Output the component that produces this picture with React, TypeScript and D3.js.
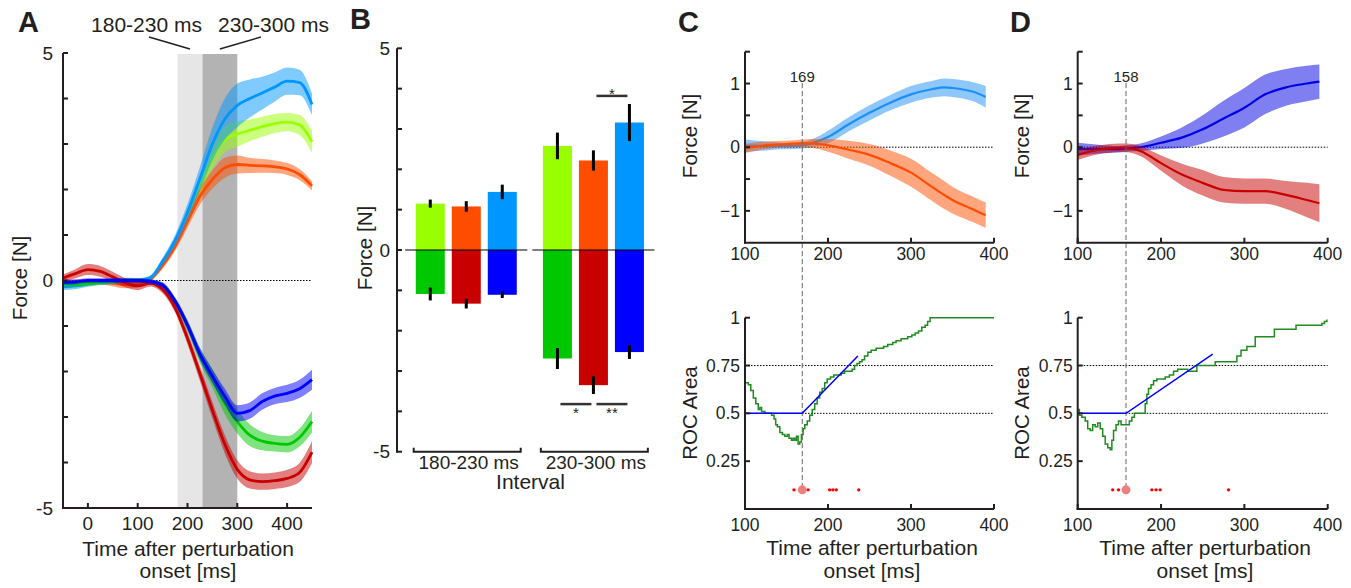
import React from 'react';
import * as d3 from 'd3';

const FONT = '"Liberation Sans", Arial, Helvetica, sans-serif';
const INK = '#231f20';

// ---------------- Panel A data ----------------
const timeA = [-50, -25, 0, 25, 50, 75, 100, 125, 150, 175, 200, 225, 250, 275, 300, 325, 350, 375, 400, 425, 450];
const limeUp = [-0.1, -0.08, -0.05, -0.04, -0.03, -0.01, 0, 0.05, 0.38, 0.8, 1.4, 2.05, 2.7, 3.1, 3.22, 3.3, 3.38, 3.45, 3.48, 3.42, 3.05];
const limeUpSe = [0.06, 0.06, 0.06, 0.06, 0.06, 0.06, 0.05, 0.05, 0.07, 0.1, 0.15, 0.2, 0.25, 0.28, 0.28, 0.24, 0.22, 0.21, 0.2, 0.22, 0.25];
const orangeUp = [-0.03, -0.04, -0.03, -0.03, -0.06, -0.09, -0.08, 0.02, 0.33, 0.75, 1.3, 1.85, 2.22, 2.48, 2.55, 2.53, 2.52, 2.5, 2.45, 2.33, 2.08];
const orangeUpSe = [0.06, 0.06, 0.06, 0.06, 0.07, 0.08, 0.07, 0.05, 0.07, 0.1, 0.14, 0.18, 0.2, 0.22, 0.2, 0.17, 0.15, 0.14, 0.13, 0.12, 0.1];
const blueUp = [-0.14, -0.12, -0.07, -0.04, -0.02, 0, 0, 0.06, 0.42, 0.88, 1.5, 2.24, 3.0, 3.55, 3.85, 4.0, 4.12, 4.25, 4.38, 4.35, 3.87];
const blueUpSe = [0.07, 0.07, 0.07, 0.06, 0.06, 0.05, 0.05, 0.05, 0.08, 0.12, 0.18, 0.26, 0.36, 0.45, 0.48, 0.42, 0.36, 0.32, 0.3, 0.28, 0.24];
const greenDown = [-0.06, -0.08, -0.06, -0.03, -0.01, 0, 0, -0.03, -0.12, -0.48, -1.0, -1.65, -2.15, -2.7, -3.1, -3.4, -3.53, -3.58, -3.6, -3.45, -3.1];
const greenDownSe = [0.06, 0.06, 0.06, 0.06, 0.06, 0.06, 0.05, 0.05, 0.07, 0.1, 0.13, 0.17, 0.2, 0.24, 0.26, 0.24, 0.2, 0.18, 0.18, 0.2, 0.24];
const redDown = [0.05, 0.15, 0.24, 0.2, 0.08, -0.05, -0.12, -0.06, -0.2, -0.6, -1.27, -2.05, -2.85, -3.6, -4.15, -4.38, -4.42, -4.4, -4.35, -4.22, -3.77];
const redDownSe = [0.08, 0.1, 0.12, 0.12, 0.11, 0.1, 0.09, 0.07, 0.08, 0.1, 0.13, 0.16, 0.18, 0.2, 0.2, 0.19, 0.18, 0.18, 0.19, 0.21, 0.24];
const blueDown = [-0.04, -0.03, 0, 0, 0, 0, 0, -0.02, -0.1, -0.45, -0.98, -1.62, -2.1, -2.55, -2.92, -2.86, -2.66, -2.54, -2.48, -2.38, -2.18];
const blueDownSe = [0.05, 0.05, 0.05, 0.05, 0.05, 0.05, 0.05, 0.05, 0.06, 0.08, 0.1, 0.13, 0.15, 0.17, 0.18, 0.18, 0.18, 0.18, 0.19, 0.2, 0.22];
const intervals: [number, number][] = [[180, 230], [230, 300]];
const intervalLabels = ['180-230 ms', '230-300 ms'];

// ---------------- Panel B data ----------------
const groups = ['180-230 ms', '230-300 ms'];
const barSlots = ['1', '2', '3'];
const upMeans = [[1.15, 1.08, 1.44], [2.58, 2.22, 3.16]];
const upErrs = [[0.1, 0.13, 0.18], [0.33, 0.25, 0.46]];
const downMeans = [[-1.09, -1.33, -1.11], [-2.69, -3.35, -2.53]];
const downErrs = [[0.16, 0.12, 0.08], [0.26, 0.22, 0.17]];
const sigGroup = [1, 1, 1];
const sigFrom = [1, 0, 1];
const sigTo = [2, 1, 2];
const sigLevel = [3.82, -3.82, -3.82];
const sigLabel = ['*', '*', '**'];

// ---------------- Panel C data ----------------
const timeC = [100, 125, 150, 169, 180, 200, 225, 250, 275, 300, 325, 340, 350, 375, 390];
const blueC = [0.02, 0.02, 0.02, 0.03, 0.06, 0.16, 0.36, 0.54, 0.7, 0.83, 0.91, 0.94, 0.93, 0.87, 0.79];
const blueCSe = [0.1, 0.07, 0.05, 0.05, 0.06, 0.1, 0.11, 0.12, 0.12, 0.13, 0.13, 0.14, 0.14, 0.15, 0.17];
const orangeC = [-0.02, 0.03, 0.05, 0.06, 0.06, 0.03, -0.04, -0.12, -0.25, -0.4, -0.62, -0.75, -0.83, -0.98, -1.07];
const orangeCSe = [0.07, 0.06, 0.05, 0.06, 0.07, 0.1, 0.14, 0.17, 0.2, 0.22, 0.22, 0.22, 0.21, 0.2, 0.2];
const rocCTime = [100, 104, 107, 110, 113, 116, 118, 120, 124, 128, 132, 135, 137, 139, 142, 145, 148, 151, 153, 156, 158, 160, 162, 164, 166, 168, 170, 172, 175, 178, 181, 184, 187, 190, 193, 196, 199, 203, 207, 212, 216, 220, 226, 229, 232, 235, 238, 241, 244, 248, 252, 258, 264, 267, 272, 278, 282, 288, 296, 301, 305, 309, 313, 317, 320, 323, 400];
const rocCVal = [0.66, 0.65, 0.62, 0.58, 0.55, 0.52, 0.53, 0.51, 0.5, 0.5, 0.49, 0.47, 0.44, 0.43, 0.4, 0.39, 0.38, 0.39, 0.37, 0.36, 0.37, 0.36, 0.38, 0.34, 0.35, 0.39, 0.42, 0.44, 0.46, 0.49, 0.52, 0.55, 0.58, 0.61, 0.63, 0.66, 0.68, 0.69, 0.7, 0.7, 0.71, 0.72, 0.72, 0.73, 0.75, 0.76, 0.77, 0.78, 0.8, 0.82, 0.83, 0.84, 0.84, 0.85, 0.86, 0.87, 0.88, 0.89, 0.9, 0.91, 0.92, 0.93, 0.95, 0.96, 0.98, 1.0, 1.0];
const fitCTime = [100, 169, 236];
const fitCVal = [0.5, 0.5, 0.8];
const dotsCTime = [159, 167, 176, 202, 206, 210, 237];
const onsetC = 169;

// ---------------- Panel D data ----------------
const timeD = [100, 125, 150, 158, 175, 200, 225, 250, 275, 300, 325, 350, 375, 390];
const blueD = [-0.03, -0.03, -0.03, -0.02, 0.0, 0.07, 0.15, 0.28, 0.45, 0.62, 0.83, 0.94, 1.0, 1.03];
const blueDSe = [0.1, 0.07, 0.05, 0.05, 0.06, 0.1, 0.16, 0.22, 0.28, 0.31, 0.31, 0.29, 0.28, 0.27];
const redD = [-0.12, -0.04, -0.01, -0.01, -0.06, -0.25, -0.43, -0.56, -0.67, -0.69, -0.69, -0.75, -0.83, -0.88];
const redDSe = [0.08, 0.07, 0.07, 0.07, 0.08, 0.12, 0.17, 0.2, 0.2, 0.2, 0.2, 0.22, 0.27, 0.3];
const rocDTime = [100, 102, 105, 109, 112, 115, 118, 121, 124, 127, 130, 133, 136, 139, 141, 143, 146, 149, 152, 156, 159, 162, 165, 168, 180, 181, 183, 185, 188, 191, 195, 200, 205, 210, 215, 220, 228, 232, 240, 243, 262, 265, 288, 291, 296, 303, 307, 313, 332, 336, 360, 362, 390, 393, 396, 399];
const rocDVal = [0.52, 0.49, 0.48, 0.46, 0.42, 0.41, 0.44, 0.43, 0.45, 0.42, 0.38, 0.34, 0.32, 0.31, 0.36, 0.41, 0.44, 0.46, 0.44, 0.44, 0.44, 0.46, 0.48, 0.5, 0.5, 0.55, 0.6, 0.63, 0.65, 0.67, 0.68, 0.68, 0.69, 0.7, 0.72, 0.73, 0.73, 0.72, 0.72, 0.75, 0.75, 0.77, 0.77, 0.8, 0.83, 0.85, 0.85, 0.9, 0.9, 0.94, 0.94, 0.96, 0.96, 0.97, 0.98, 0.99];
const fitDTime = [100, 158, 262];
const fitDVal = [0.5, 0.5, 0.81];
const dotsDTime = [142, 149, 189, 194, 199, 281];
const onsetD = 158;

type Scale = d3.ScaleLinear<number, number>;

function Band({ x, y, t, m, s, color, width = 2.5 }: { x: Scale; y: Scale; t: number[]; m: number[]; s: number[]; color: string; width?: number }) {
  const area = d3.area<number>()
    .x((_, i) => x(t[i]))
    .y0((d, i) => y(d - s[i]))
    .y1((d, i) => y(d + s[i]))
    .curve(d3.curveMonotoneX);
  const line = d3.line<number>()
    .x((_, i) => x(t[i]))
    .y((d) => y(d))
    .curve(d3.curveMonotoneX);
  return (
    <g>
      <path d={area(m) || ''} fill={color} fillOpacity={0.5} stroke="none" />
      <path d={line(m) || ''} fill="none" stroke={color} strokeWidth={width} />
    </g>
  );
}

const textStyle = { fontFamily: FONT, fill: INK } as const;

function PanelA() {
  const x = d3.scaleLinear().domain([-50, 450]).range([63, 312]);
  const y = d3.scaleLinear().domain([-5, 5]).range([508, 53]);
  const ser = [
    { m: limeUp, s: limeUpSe, c: '#99ff00' },
    { m: orangeUp, s: orangeUpSe, c: '#ff4d00' },
    { m: blueUp, s: blueUpSe, c: '#0096ff' },
    { m: greenDown, s: greenDownSe, c: '#00c800' },
    { m: redDown, s: redDownSe, c: '#c80000' },
    { m: blueDown, s: blueDownSe, c: '#0000ff' },
  ];
  const yTicks = d3.range(-5, 6, 1);
  const xTicks = [0, 100, 200, 300, 400];
  const fills = ['#e6e6e6', '#b3b3b3'];
  return (
    <g>
      {intervals.map(([a, b], i) => (
        <rect key={i} x={x(a)} y={y(5) + 1} width={x(b) - x(a)} height={y(-5) - y(5) - 1} fill={fills[i]} />
      ))}
      <line x1={x(-50)} x2={x(450)} y1={y(0)} y2={y(0)} stroke="#000" strokeWidth={1} strokeDasharray="1.5,1.5" />
      {ser.map((d, i) => (
        <Band key={i} x={x} y={y} t={timeA} m={d.m} s={d.s} color={d.c} width={2.8} />
      ))}
      {intervals.map(([a, b], i) => {
        const mid = x((a + b) / 2);
        const sx = i === 0 ? mid - 41 : mid + 41;
        const tx = i === 0 ? 146.5 : 273.5;
        return (
          <g key={i}>
            <line x1={sx} y1={37} x2={mid} y2={49} stroke={INK} strokeWidth={1.5} />
            <text x={tx} y={32} textAnchor="middle" fontSize={21} style={textStyle}>{intervalLabels[i]}</text>
          </g>
        );
      })}
      <line x1={x(-50)} x2={x(-50)} y1={y(5)} y2={y(-5) + 1} stroke={INK} strokeWidth={2} />
      <line x1={x(-50) - 1} x2={x(450)} y1={y(-5)} y2={y(-5)} stroke={INK} strokeWidth={2} />
      {yTicks.map((v) => (
        <line key={v} x1={x(-50)} x2={x(-50) + 5} y1={y(v)} y2={y(v)} stroke={INK} strokeWidth={2} />
      ))}
      {[5, 0, -5].map((v) => (
        <text key={v} x={53} y={y(v)} dy="0.35em" textAnchor="end" fontSize={19} style={textStyle}>{v}</text>
      ))}
      {xTicks.map((v) => (
        <g key={v}>
          <line x1={x(v)} x2={x(v)} y1={y(-5)} y2={y(-5) - 5} stroke={INK} strokeWidth={2} />
          <text x={x(v)} y={530} textAnchor="middle" fontSize={19} style={textStyle}>{v}</text>
        </g>
      ))}
      <text x={188} y={556} textAnchor="middle" fontSize={21} style={textStyle}>Time after perturbation</text>
      <text x={188} y={578} textAnchor="middle" fontSize={21} style={textStyle}>onset [ms]</text>
      <text transform={`translate(27,278) rotate(-90)`} textAnchor="middle" fontSize={20.5} style={textStyle}>Force [N]</text>
      <text x={18} y={32} fontSize={29} fontWeight="bold" style={textStyle}>A</text>
    </g>
  );
}

function PanelB() {
  const y = d3.scaleLinear().domain([-5, 5]).range([451.7, 48.3]);
  const xg = d3.scaleBand<string>().domain(groups).range([402.7, 657]);
  const xs = d3.scaleBand<string>().domain(barSlots).range([0, xg.bandwidth()]).paddingInner(0.194).paddingOuter(0.363);
  const upC = ['#99ff00', '#ff4d00', '#0096ff'];
  const downC = ['#00c800', '#c80000', '#0000ff'];
  const bw = xs.bandwidth();
  const cx = (g: number, k: number) => (xg(groups[g]) as number) + (xs(barSlots[k]) as number) + bw / 2;
  return (
    <g>
      {groups.map((g, gi) => (
        <g key={g}>
          {barSlots.map((s, k) => {
            const x0 = (xg(g) as number) + (xs(s) as number);
            const um = upMeans[gi][k];
            const dm = downMeans[gi][k];
            return (
              <g key={s}>
                <rect x={x0} y={y(um)} width={bw} height={y(0) - y(um)} fill={upC[k]} />
                <rect x={x0} y={y(0)} width={bw} height={y(dm) - y(0)} fill={downC[k]} />
                <line x1={x0 + bw / 2} x2={x0 + bw / 2} y1={y(um - upErrs[gi][k])} y2={y(um + upErrs[gi][k])} stroke="#000" strokeWidth={3} />
                <line x1={x0 + bw / 2} x2={x0 + bw / 2} y1={y(dm - downErrs[gi][k])} y2={y(dm + downErrs[gi][k])} stroke="#000" strokeWidth={3} />
              </g>
            );
          })}
          <line x1={(xg(g) as number) + 2.5} x2={(xg(g) as number) + xg.bandwidth() - 2.5} y1={y(0)} y2={y(0)} stroke="#000" strokeWidth={1} />
          <path
            d={`M${(xg(g) as number) + 11},${y(-5) - 4}V${y(-5)}H${(xg(g) as number) + 118}V${y(-5) - 4}`}
            fill="none" stroke={INK} strokeWidth={2}
          />
          <text x={(xg(g) as number) + 66} y={468.5} textAnchor="middle" fontSize={19} style={textStyle}>{g}</text>
        </g>
      ))}
      {sigLevel.map((lv, i) => {
        const x1 = cx(sigGroup[i], sigFrom[i]) + 3;
        const x2 = cx(sigGroup[i], sigTo[i]) - 2;
        const ty = lv > 0 ? y(lv) + 3 : y(lv) + 14;
        return (
          <g key={i}>
            <line x1={x1} x2={x2} y1={y(lv)} y2={y(lv)} stroke="#333" strokeWidth={2.5} />
            <text x={(x1 + x2) / 2} y={ty} textAnchor="middle" fontSize={15} style={textStyle}>{sigLabel[i]}</text>
          </g>
        );
      })}
      <line x1={397} x2={397} y1={y(5)} y2={y(-5) + 1} stroke={INK} strokeWidth={2} />
      {d3.range(-5, 6, 1).map((v) => (
        <line key={v} x1={397} x2={402} y1={y(v)} y2={y(v)} stroke={INK} strokeWidth={2} />
      ))}
      {[5, 0, -5].map((v) => (
        <text key={v} x={390} y={y(v)} dy="0.35em" textAnchor="end" fontSize={19} style={textStyle}>{v}</text>
      ))}
      <text x={530.5} y={488.5} textAnchor="middle" fontSize={21} style={textStyle}>Interval</text>
      <text transform={`translate(372,248) rotate(-90)`} textAnchor="middle" fontSize={20.5} style={textStyle}>Force [N]</text>
      <text x={350} y={29} fontSize={29} fontWeight="bold" style={textStyle}>B</text>
    </g>
  );
}

function PanelCD(props: {
  x0: number; x1: number; letter: string; letterX: number; titleX: number;
  t: number[]; m1: number[]; s1: number[]; c1: string; m2: number[]; s2: number[]; c2: string;
  rocT: number[]; rocV: number[]; fitT: number[]; fitV: number[]; dots: number[]; onset: number;
}) {
  const x = d3.scaleLinear().domain([100, 400]).range([props.x0, props.x1]);
  const yt = d3.scaleLinear().domain([-1.5, 1.5]).range([242.7, 51.7]);
  const yr = d3.scaleLinear().domain([0, 1]).range([509, 317.7]);
  const fmt = d3.format('');
  const xTicks = [100, 200, 300, 400];
  const ax = props.x0;
  const rocLine = d3.line<number>().x((_, i) => x(props.rocT[i])).y((d) => yr(d)).curve(d3.curveStepAfter);
  const fitLine = d3.line<number>().x((_, i) => x(props.fitT[i])).y((d) => yr(d));
  return (
    <g>
      <line x1={ax} x2={x(400)} y1={yt(0)} y2={yt(0)} stroke="#000" strokeWidth={1} strokeDasharray="1.5,1.5" />
      {[0.5, 0.75].map((v) => (
        <line key={v} x1={ax} x2={x(400)} y1={yr(v)} y2={yr(v)} stroke="#000" strokeWidth={1} strokeDasharray="1.5,1.5" />
      ))}
      <Band x={x} y={yt} t={props.t} m={props.m1} s={props.s1} color={props.c1} width={2.2} />
      <Band x={x} y={yt} t={props.t} m={props.m2} s={props.s2} color={props.c2} width={2.2} />
      <line x1={x(props.onset)} x2={x(props.onset)} y1={83} y2={yr(0.1)} stroke="#666" strokeWidth={1} strokeDasharray="5,3" />
      <text x={x(props.onset)} y={82} textAnchor="middle" fontSize={15} style={textStyle}>{props.onset}</text>
      <path d={rocLine(props.rocV) || ''} fill="none" stroke="#1f8a1f" strokeWidth={1.5} />
      <path d={fitLine(props.fitV) || ''} fill="none" stroke="#0000ff" strokeWidth={1.5} />
      {props.dots.map((d, i) => (
        <circle key={i} cx={x(d)} cy={yr(0.1)} r={1.7} fill="#ff0000" />
      ))}
      <circle cx={x(props.onset)} cy={yr(0.1)} r={4.5} fill="#f08080" />
      <line x1={ax} x2={ax} y1={yt(1.5)} y2={yt(-1.5) + 1} stroke={INK} strokeWidth={2} />
      <line x1={ax - 1} x2={x(400)} y1={yt(-1.5)} y2={yt(-1.5)} stroke={INK} strokeWidth={2} />
      {[-1, -0.5, 0, 0.5, 1, 1.5].map((v) => (
        <line key={v} x1={ax} x2={ax + 5} y1={yt(v)} y2={yt(v)} stroke={INK} strokeWidth={2} />
      ))}
      {[1, 0, -1].map((v) => (
        <text key={v} x={ax - 5} y={yt(v)} dy="0.35em" textAnchor="end" fontSize={17.5} style={textStyle}>{fmt(v)}</text>
      ))}
      {xTicks.map((v) => (
        <g key={v}>
          <line x1={x(v)} x2={x(v)} y1={yt(-1.5)} y2={yt(-1.5) - 5} stroke={INK} strokeWidth={2} />
          <text x={x(v)} y={259.5} textAnchor="middle" fontSize={17.5} style={textStyle}>{v}</text>
        </g>
      ))}
      <line x1={ax} x2={ax} y1={yr(1)} y2={yr(0) + 1} stroke={INK} strokeWidth={2} />
      <line x1={ax - 1} x2={x(400)} y1={yr(0)} y2={yr(0)} stroke={INK} strokeWidth={2} />
      {[0.25, 0.5, 0.75, 1].map((v) => (
        <g key={v}>
          <line x1={ax} x2={ax + 5} y1={yr(v)} y2={yr(v)} stroke={INK} strokeWidth={2} />
          <text x={ax - 5} y={yr(v)} dy="0.35em" textAnchor="end" fontSize={17.5} style={textStyle}>{String(v)}</text>
        </g>
      ))}
      {xTicks.map((v) => (
        <g key={v}>
          <line x1={x(v)} x2={x(v)} y1={yr(0)} y2={yr(0) - 5} stroke={INK} strokeWidth={2} />
          <text x={x(v)} y={530.5} textAnchor="middle" fontSize={17.5} style={textStyle}>{v}</text>
        </g>
      ))}
      <text x={props.titleX} y={555} textAnchor="middle" fontSize={21} style={textStyle}>Time after perturbation</text>
      <text x={props.titleX} y={578} textAnchor="middle" fontSize={21} style={textStyle}>onset [ms]</text>
      <text transform={`translate(${ax - 48.5},136) rotate(-90)`} textAnchor="middle" fontSize={20.5} style={textStyle}>Force [N]</text>
      <text transform={`translate(${ax - 48.5},413) rotate(-90)`} textAnchor="middle" fontSize={20.5} style={textStyle}>ROC Area</text>
      <text x={props.letterX} y={32} fontSize={29} fontWeight="bold" style={textStyle}>{props.letter}</text>
    </g>
  );
}

export default function App() {
  return (
    <svg width={1351} height={588} style={{ position: 'absolute', left: 0, top: 0, background: '#fff' }}>
      <rect x={0} y={0} width={1351} height={588} fill="#fff" />
      <PanelA />
      <PanelB />
      <PanelCD
        x0={745} x1={994} letter="C" letterX={678} titleX={872}
        t={timeC} m1={blueC} s1={blueCSe} c1="#1e90f5" m2={orangeC} s2={orangeCSe} c2="#ff4d00"
        rocT={rocCTime} rocV={rocCVal} fitT={fitCTime} fitV={fitCVal} dots={dotsCTime} onset={onsetC}
      />
      <PanelCD
        x0={1077.7} x1={1327.7} letter="D" letterX={1010} titleX={1205}
        t={timeD} m1={blueD} s1={blueDSe} c1="#0000e6" m2={redD} s2={redDSe} c2="#c80000"
        rocT={rocDTime} rocV={rocDVal} fitT={fitDTime} fitV={fitDVal} dots={dotsDTime} onset={onsetD}
      />
    </svg>
  );
}
